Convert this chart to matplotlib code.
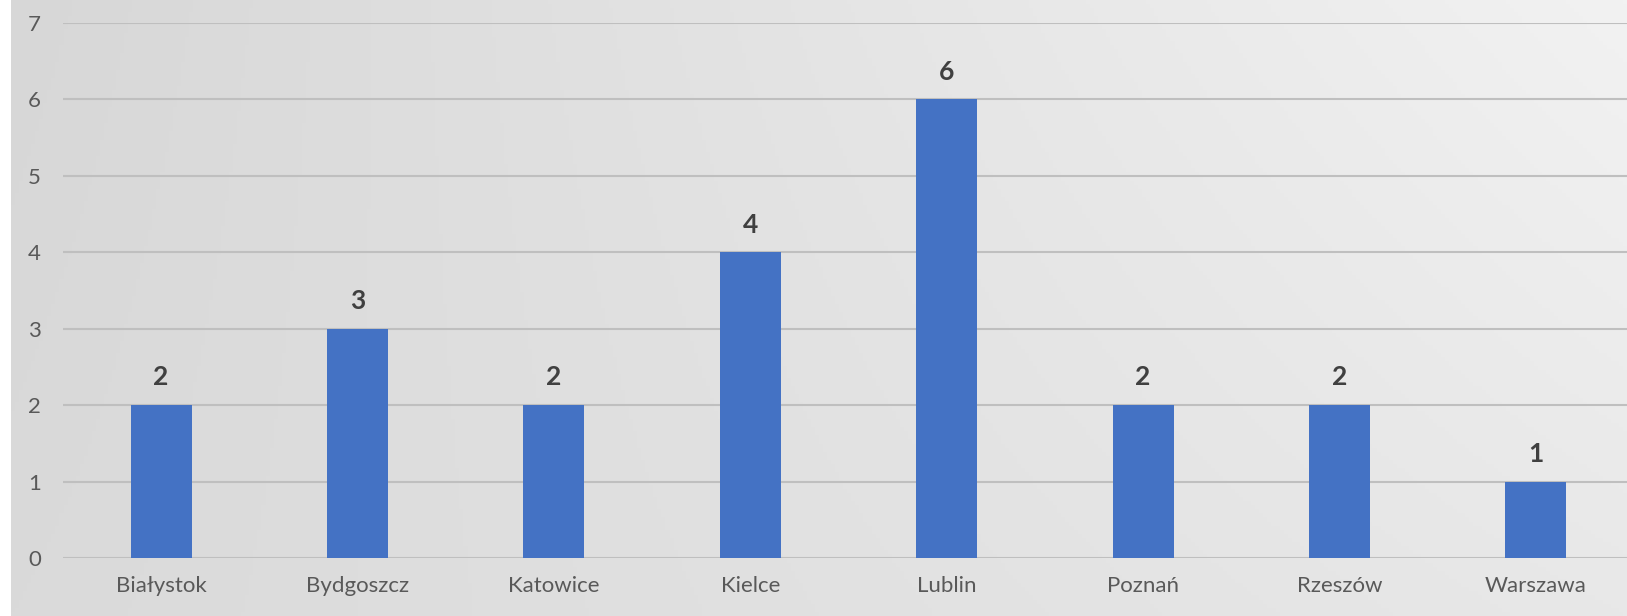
import matplotlib.pyplot as plt
import numpy as np

cities = ["Białystok", "Bydgoszcz", "Katowice", "Kielce", "Lublin", "Poznań", "Rzeszów", "Warszawa"]
counts = [2, 3, 2, 4, 6, 2, 2, 1]

plt.rcParams['font.family'] = ['Lato', 'DejaVu Sans']

W, H = 1627, 616
fig = plt.figure(figsize=(W / 100, H / 100), dpi=100)

# gray gradient background, lighter towards the upper right
bg = fig.add_axes([11 / W, 0, 1 - 11 / W, 1], zorder=0)
gx, gt = np.meshgrid(np.linspace(0, 1, 400), np.linspace(0, 1, 150))
val = (218 - 3 * gt + gx * (14 + 13 * gt)) / 255
img = np.dstack([val, val, val])
bg.imshow(img, aspect='auto', origin='lower', extent=[0, 1, 0, 1])
bg.axis('off')

# plot area runs from x=63 past the right edge of the image
ax = fig.add_axes([63 / W, (H - 558) / H, (1634 - 63) / W, (558 - 23) / H], zorder=1)
ax.patch.set_alpha(0)
x = np.arange(len(cities))
ax.bar(x, counts, width=0.31, color='#4472C4', zorder=3)

for xi, v in zip(x, counts):
    ax.annotate(f"{v}", (xi, v), xytext=(0, 20), textcoords='offset points',
                ha='center', va='center', fontsize=19, fontweight='bold', color='#404040')

ax.set_xlim(-0.5, 7.5)
ax.set_ylim(0, 7)
ax.set_yticks(range(8))
ax.set_xticks(x)
ax.set_xticklabels(cities)
ax.grid(axis='y', color='#BFBFBF', linewidth=1.5, zorder=0)
ax.tick_params(length=0, labelsize=16, labelcolor='#595959')
ax.tick_params(axis='y', pad=16)
ax.tick_params(axis='x', pad=13)
for s in ax.spines.values():
    s.set_visible(False)

fig.savefig('out.png', dpi=100)
